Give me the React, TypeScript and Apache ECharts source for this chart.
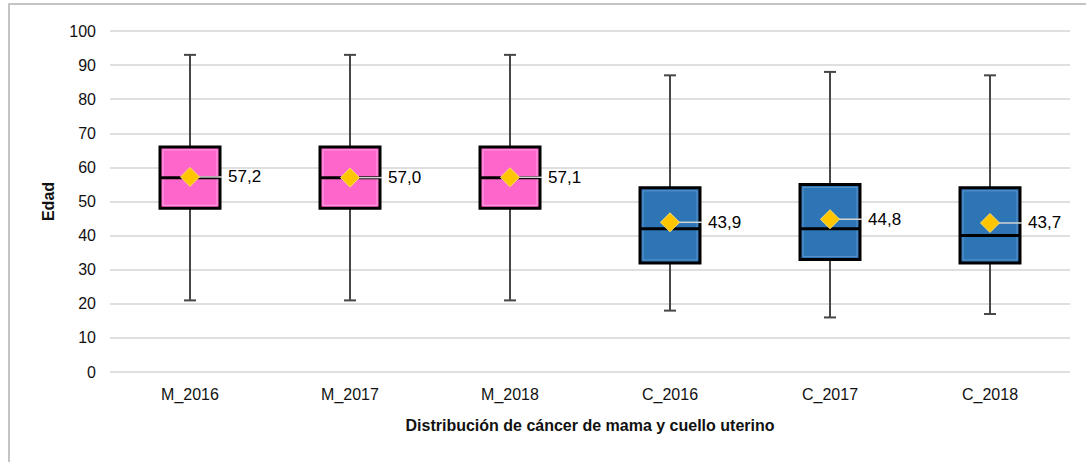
import React, { useEffect, useRef } from "react";
import * as echarts from "echarts";

const categories = ["M_2016", "M_2017", "M_2018", "C_2016", "C_2017", "C_2018"];
const minValues = [21, 21, 21, 18, 16, 17];
const q1Values = [48, 48, 48, 32, 33, 32];
const medianValues = [57, 57, 57, 42, 42, 40];
const q3Values = [66, 66, 66, 54, 55, 54];
const maxValues = [93, 93, 93, 87, 88, 87];
const meanValues = [57.2, 57.0, 57.1, 43.9, 44.8, 43.7];
const yTicks = { min: 0, max: 100, interval: 10 };

const FONT = "'Liberation Sans Narrow', 'Arial Narrow', Arial, sans-serif";

export default function App() {
  const ref = useRef<HTMLDivElement>(null);
  useEffect(() => {
    if (!ref.current) return;
    const chart = echarts.init(ref.current, undefined, { renderer: "svg" });
    const boxData = categories.map((_, i) => [
      i,
      minValues[i],
      q1Values[i],
      medianValues[i],
      q3Values[i],
      maxValues[i],
      meanValues[i],
    ]);
    const renderItem = (params: any, api: any) => {
      const idx = api.value(0);
      const pMin = api.coord([idx, api.value(1)]);
      const pQ1 = api.coord([idx, api.value(2)]);
      const pMed = api.coord([idx, api.value(3)]);
      const pQ3 = api.coord([idx, api.value(4)]);
      const pMax = api.coord([idx, api.value(5)]);
      const pMean = api.coord([idx, api.value(6)]);
      const cx = pMed[0];
      const isM = categories[idx].startsWith("M");
      const fill = isM ? "#FF66CC" : "#2E75B6";
      const inner = isM ? "#FF9EDF" : "#5A93CC";
      const hw = 30;
      const cap = 6;
      const wStyle = { stroke: "#474747", lineWidth: 2 };
      return {
        type: "group",
        children: [
          { type: "line", shape: { x1: cx, y1: pMax[1], x2: cx, y2: pQ3[1] }, style: wStyle },
          { type: "line", shape: { x1: cx - cap, y1: pMax[1], x2: cx + cap, y2: pMax[1] }, style: wStyle },
          { type: "line", shape: { x1: cx, y1: pQ1[1], x2: cx, y2: pMin[1] }, style: wStyle },
          { type: "line", shape: { x1: cx - cap, y1: pMin[1], x2: cx + cap, y2: pMin[1] }, style: wStyle },
          {
            type: "rect",
            shape: { x: cx - hw, y: pQ3[1], width: hw * 2, height: pQ1[1] - pQ3[1] },
            style: { fill, stroke: "#000", lineWidth: 3 },
          },
          {
            type: "rect",
            shape: { x: cx - hw + 3, y: pQ3[1] + 3, width: hw * 2 - 6, height: pQ1[1] - pQ3[1] - 6 },
            style: { fill: "none", stroke: inner, lineWidth: 1 },
          },
          { type: "line", shape: { x1: cx - hw, y1: pMed[1], x2: cx + hw, y2: pMed[1] }, style: { stroke: "#000", lineWidth: 3 } },
          { type: "line", shape: { x1: cx, y1: pMean[1], x2: cx + 32, y2: pMean[1] }, style: { stroke: "#d4d4d4", lineWidth: 1.5 } },
        ],
      };
    };
    chart.setOption({
      animation: false,
      graphic: [
        {
          type: "rect",
          shape: { x: 9, y: 4, width: 1100, height: 480 },
          style: { fill: "none", stroke: "#c4c4c4", lineWidth: 2 },
          silent: true,
        },
      ],
      grid: { left: 110, right: 16, top: 31, bottom: 90 },
      xAxis: {
        type: "category",
        data: categories,
        axisTick: { show: false },
        axisLine: { show: false },
        axisLabel: { fontFamily: FONT, fontSize: 16, color: "#111", margin: 14 },
        name: "Distribución de cáncer de mama y cuello uterino",
        nameLocation: "middle",
        nameGap: 45,
        nameTextStyle: { fontFamily: FONT, fontSize: 16, fontWeight: "bold", color: "#111" },
      },
      yAxis: {
        type: "value",
        min: yTicks.min,
        max: yTicks.max,
        interval: yTicks.interval,
        axisLine: { show: false },
        axisTick: { show: false },
        splitLine: { lineStyle: { color: "#d4d4d4", width: 1.5 } },
        axisLabel: { fontFamily: FONT, fontSize: 16, color: "#111", margin: 14 },
        name: "Edad",
        nameLocation: "middle",
        nameRotate: 90,
        nameGap: 54,
        nameTextStyle: { fontFamily: FONT, fontSize: 16, fontWeight: "bold", color: "#111" },
      },
      series: [
        {
          type: "custom",
          renderItem,
          data: boxData,
          encode: { x: 0, y: [1, 2, 3, 4, 5] },
          z: 2,
        },
        {
          type: "scatter",
          data: categories.map((_, i) => [i, meanValues[i]]),
          symbol: "diamond",
          symbolSize: 19,
          itemStyle: { color: "#FFC600", borderColor: "#FFE066", borderWidth: 1, opacity: 1 },
          z: 5,
          label: {
            show: true,
            position: "right",
            distance: 28,
            fontFamily: FONT,
            fontSize: 17,
            color: "#000",
            formatter: (p: any) => p.value[1].toFixed(1).replace(".", ","),
          },
        },
      ],
    });
    return () => chart.dispose();
  }, []);
  return (
    <div
      ref={ref}
      style={{ position: "fixed", left: 0, top: 0, width: 1086, height: 462, background: "#fff" }}
    />
  );
}
